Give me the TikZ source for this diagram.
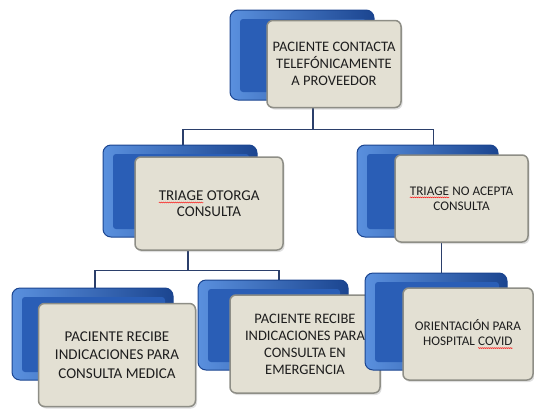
\documentclass[tikz,border=0pt]{standalone}
\usepackage{fontspec}
\setmainfont{Carlito}
\usetikzlibrary{backgrounds}
\usetikzlibrary{shadows}
\usetikzlibrary{decorations.pathmorphing}
\definecolor{azulos}{HTML}{1B4590}
\definecolor{azulcl}{HTML}{5A90DE}
\definecolor{azulmd}{HTML}{2A5EB6}
\definecolor{beige}{HTML}{E3E0D3}
\definecolor{borde}{HTML}{8E8E86}
\definecolor{linea}{HTML}{2B3F6B}
\definecolor{letra}{HTML}{1E1E1E}
\newcommand{\malescrito}[1]{\tikz[baseline=(w.base), x=1pt, y=1pt, sharp corners, line width=0.4pt]{%
  \node[inner sep=0pt, outer sep=0pt, draw=none, fill=none, minimum size=0pt] (w) {#1};
  \draw[red, sharp corners, decorate, decoration={snake, amplitude=0.5pt, segment length=2pt}]
    ([yshift=-2.2pt]w.base west) -- ([yshift=-2.2pt]w.base east);}}

\begin{document}
\begin{tikzpicture}[x=1pt, y=-1pt,
    fondo/.style={rounded corners=8pt, draw=azulos, line width=1pt,
      left color=azulcl, right color=azulos,
      path picture={\fill[azulmd, rounded corners=3pt]
        ([xshift=10pt,yshift=-9pt]path picture bounding box.north west) rectangle
        ([xshift=-8pt,yshift=8pt]path picture bounding box.south east);}},
    frente/.style={rounded corners=6pt, draw=borde, line width=1.5pt, fill=beige,
      drop shadow={opacity=0.25, shadow xshift=1.5pt, shadow yshift=-2pt},
      text=letra, align=center, inner sep=0pt},
    conector/.style={draw=linea, line width=1.2pt}]
  \useasboundingbox (0,0) rectangle (534,410);

  \node[fondo, minimum width=144pt, minimum height=90pt] (sup-f) at (302,55) {};
  \node[frente, minimum width=134pt, minimum height=87pt,
    font=\fontsize{14.5}{17}\selectfont] (sup) at (334,64)
    {PACIENTE CONTACTA\\TELEFÓNICAMENTE\\A PROVEEDOR};

  \node[fondo, minimum width=154pt, minimum height=92pt] (izq-f) at (180,191) {};
  \node[frente, minimum width=148pt, minimum height=93pt,
    font=\fontsize{15}{16}\selectfont] (izq) at (209,203.5)
    {\malescrito{TRIAGE} OTORGA\\CONSULTA};

  \node[fondo, minimum width=141pt, minimum height=92pt] (der-f) at (427.5,191) {};
  \node[frente, minimum width=133pt, minimum height=87pt,
    font=\fontsize{13.2}{15}\selectfont] (der) at (461.5,198.5)
    {\malescrito{TRIAGE} NO ACEPTA\\CONSULTA};

  \node[fondo, minimum width=161pt, minimum height=92pt] (medica-f) at (92.5,334) {};
  \node[frente, minimum width=157pt, minimum height=103pt,
    font=\fontsize{15}{18.5}\selectfont] (medica) at (117,355)
    {PACIENTE RECIBE\\INDICACIONES PARA\\CONSULTA MEDICA};

  \node[fondo, minimum width=150pt, minimum height=90pt] (emerg-f) at (273,325) {};
  \node[frente, minimum width=150pt, minimum height=98pt,
    font=\fontsize{14.5}{17}\selectfont] (emerg) at (305,344)
    {PACIENTE RECIBE\\INDICACIONES PARA\\CONSULTA EN\\EMERGENCIA};

  \node[fondo, minimum width=142pt, minimum height=97pt] (covid-f) at (436,321.5) {};
  \node[frente, minimum width=130pt, minimum height=92pt,
    font=\fontsize{13.2}{15.5}\selectfont] (covid) at (468,334)
    {ORIENTACIÓN PARA\\HOSPITAL \malescrito{COVID}};

  \begin{scope}[on background layer]
    \draw[conector] ([xshift=-21pt]sup.south) -- +(0,21) -| ([xshift=3pt]izq-f.north);
    \draw[conector] ([xshift=-21pt]sup.south) -- +(0,21) -| ([xshift=6pt]der-f.north);
    \draw[conector] ([xshift=-21pt]izq.south) -- +(0,20) -| ([xshift=2.5pt]medica-f.north);
    \draw[conector] ([xshift=-21pt]izq.south) -- +(0,20) -| ([xshift=6pt]emerg-f.north);
    \draw[conector] ([xshift=-20pt]der.south) -- ([xshift=-20pt]der.south |- covid-f.north);
  \end{scope}
\end{tikzpicture}
\end{document}
